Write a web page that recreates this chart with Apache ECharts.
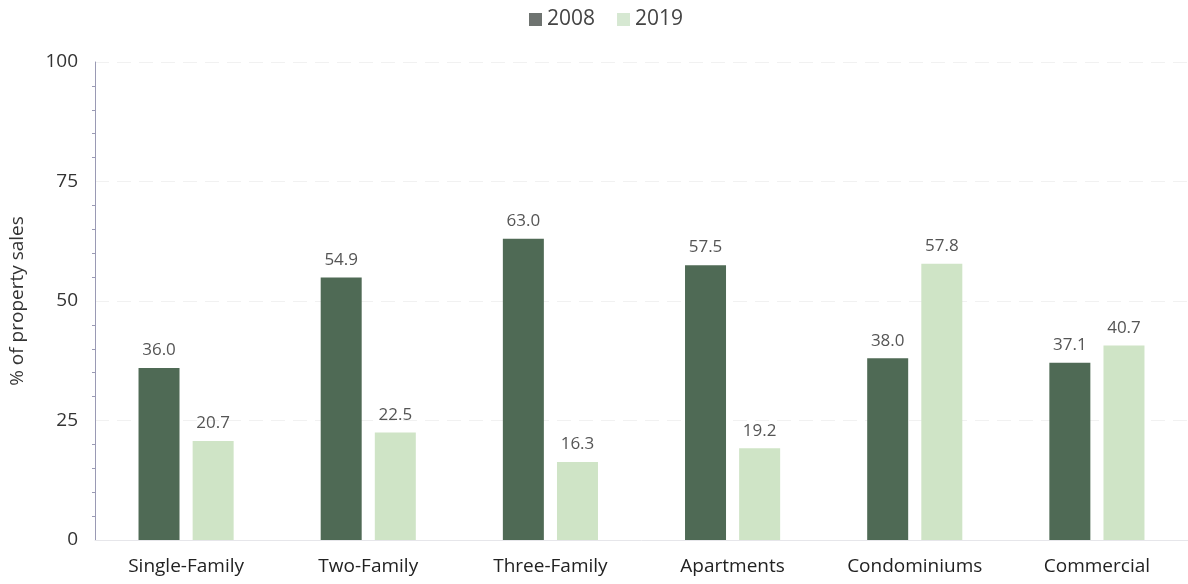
<!DOCTYPE html>
<html>
<head>
<meta charset="utf-8">
<script src="https://cdn.jsdelivr.net/npm/echarts@6/dist/echarts.min.js"></script>
<style>
  html, body { margin: 0; padding: 0; background: #fff; }
  #chart { width: 1188px; height: 584px; }
</style>
</head>
<body>
<div id="chart"></div>
<script>
// Share of property sales by property type, 2008 vs 2019
const categories = ['Single-Family', 'Two-Family', 'Three-Family', 'Apartments', 'Condominiums', 'Commercial'];
const values2008 = [36.0, 54.9, 63.0, 57.5, 38.0, 37.1];
const values2019 = [20.7, 22.5, 16.3, 19.2, 57.8, 40.7];
const yTicks = [0, 25, 50, 75, 100];

const FONT = '"Open Sans", "Noto Sans", sans-serif';

const chart = echarts.init(document.getElementById('chart'), null, { renderer: 'canvas' });

const labelStyle = {
  show: true,
  position: 'top',
  distance: 9,
  color: '#555',
  fontFamily: FONT,
  fontSize: 17,
  formatter: p => p.value.toFixed(1)
};

chart.setOption({
  animation: false,
  backgroundColor: '#fff',
  legend: {
    top: 4,
    left: 524,
    itemWidth: 13,
    itemHeight: 13,
    itemGap: 22,
    textStyle: { fontFamily: FONT, fontSize: 21, color: '#444' },
    data: [
      { name: '2008', icon: 'rect', itemStyle: { color: '#6e7370' } },
      { name: '2019', icon: 'rect', itemStyle: { color: '#d6e8d2' } }
    ]
  },
  grid: { left: 92, top: 62, width: 1104, height: 478, containLabel: false },
  xAxis: {
    type: 'category',
    data: categories,
    axisLine: { show: true, lineStyle: { color: '#e6e6ea', width: 1 } },
    axisTick: { show: false },
    axisLabel: { interval: 0, hideOverlap: false, fontFamily: FONT, fontSize: 19, color: '#222', margin: 17 }
  },
  yAxis: {
    type: 'value',
    min: 0,
    max: 100,
    interval: 25,
    name: '% of property sales',
    nameLocation: 'middle',
    nameGap: 68,
    nameTextStyle: { fontFamily: FONT, fontSize: 19, color: '#333' },
    axisLine: { show: true, lineStyle: { color: '#9a9ab4', width: 1 } },
    axisTick: { show: false },
    minorTick: { show: true, splitNumber: 5, length: 3, lineStyle: { color: '#9a9ab4' } },
    axisLabel: {
      fontFamily: FONT, fontSize: 19, color: '#333', margin: 17,
      formatter: v => (yTicks.includes(v) ? String(v) : '')
    },
    splitLine: { show: true, lineStyle: { color: '#f1f1f1', width: 1, type: [14, 8] } }
  },
  series: [
    {
      name: '2008',
      type: 'bar',
      data: values2008,
      barWidth: 41,
      barGap: '32%',
      itemStyle: { color: '#4f6a55' },
      label: labelStyle
    },
    {
      name: '2019',
      type: 'bar',
      data: values2019,
      barWidth: 41,
      itemStyle: { color: '#cfe4c6' },
      label: labelStyle
    }
  ]
});
</script>
</body>
</html>
